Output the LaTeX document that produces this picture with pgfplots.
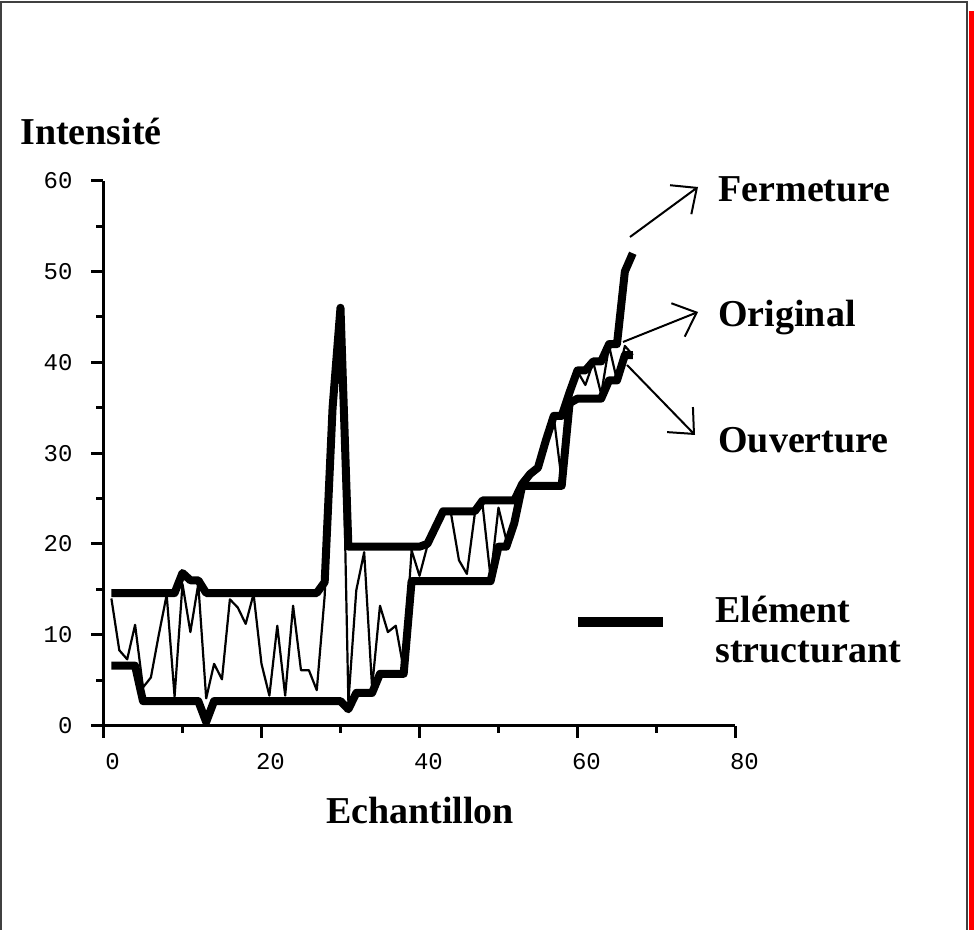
\documentclass[border=0pt]{standalone}
\usepackage{fontspec}
\setmainfont{Liberation Serif}
\setmonofont{Liberation Mono}
\usepackage{pgfplots}
\usepackage{pgfplotstable}
\pgfplotsset{compat=1.18}
\usetikzlibrary{arrows.meta}

\pgfplotstableread{
n orig ferm ouv
1 14.0 14.6 6.6
2 8.3 14.6 6.6
3 7.3 14.6 6.6
4 11.1 14.6 6.6
5 4.2 14.6 2.7
6 5.3 14.6 2.7
7 10.0 14.6 2.7
8 14.4 14.6 2.7
9 3.2 14.6 2.7
10 15.6 16.8 2.7
11 10.3 16.0 2.7
12 15.6 16.0 2.7
13 3.0 14.6 0.4
14 6.8 14.6 2.7
15 5.1 14.6 2.7
16 13.9 14.6 2.7
17 13.0 14.6 2.7
18 11.2 14.6 2.7
19 14.5 14.6 2.7
20 6.8 14.6 2.7
21 3.3 14.6 2.7
22 11.0 14.6 2.7
23 3.3 14.6 2.7
24 13.2 14.6 2.7
25 6.1 14.6 2.7
26 6.1 14.6 2.7
27 3.9 14.6 2.7
28 14.3 15.8 2.7
29 35.0 35.0 2.7
30 46.0 46.0 2.7
31 2.6 19.7 1.8
32 14.9 19.7 3.6
33 19.1 19.7 3.6
34 4.2 19.7 3.6
35 13.2 19.7 5.7
36 10.3 19.7 5.7
37 11.0 19.7 5.7
38 6.2 19.7 5.7
39 19.3 19.7 15.9
40 16.5 19.7 15.9
41 19.8 20.0 15.9
42 21.5 21.8 15.9
43 23.5 23.6 15.9
44 23.3 23.6 15.9
45 18.2 23.6 15.9
46 16.7 23.6 15.9
47 23.3 23.6 15.9
48 24.2 24.8 15.9
49 16.3 24.8 15.9
50 24.0 24.8 19.7
51 20.4 24.8 19.7
52 23.0 24.8 22.3
53 26.5 26.6 26.4
54 27.5 27.7 26.4
55 28.4 28.4 26.4
56 31.4 31.4 26.4
57 34.0 34.1 26.4
58 27.0 34.1 26.4
59 35.5 36.7 35.5
60 39.0 39.1 36.0
61 37.5 39.1 36.0
62 40.0 40.1 36.0
63 36.5 40.1 36.0
64 41.8 42.0 38.0
65 38.0 42.0 38.0
66 41.8 50.0 40.8
67 40.8 52.0 40.8
}\data

\begin{document}
\begin{tikzpicture}[x=0.5pt,y=0.5pt]
\useasboundingbox (0,0) rectangle (974,930);
\fill[white] (0,0) rectangle (974,930);
\draw[line width=1pt, black!75] (1,0) -- (1,928) -- (967,928) -- (967,0);
\fill[red] (968.5,0) rectangle (974,919);

\begin{axis}[
  at={(131,225)}, anchor=south west,
  scale only axis, width=316pt, height=272.5pt,
  xmin=0, xmax=80, ymin=0, ymax=60,
  axis lines*=left,
  axis line style={line width=1.5pt},
  xtick={0,20,40,60,80}, ytick={0,10,20,30,40,50,60},
  minor x tick num=1, minor y tick num=1,
  tick align=outside,
  major tick length=6pt, minor tick length=3.5pt,
  every tick/.style={line width=1.5pt, black},
  tick label style={font=\ttfamily\fontsize{12}{14}\selectfont},
  yticklabel style={xshift=-6pt},
  xticklabel style={xshift=4.5pt, yshift=-4.5pt},
  /pgf/number format/assume math mode=true,
  clip=false,
]
\addplot[line width=4pt, line join=round, black] table[x=n, y=ferm] {\data};
\addplot[line width=4pt, line join=round, black] table[x=n, y=ouv] {\data};
\addplot[line width=1.1pt, line join=round, black] table[x=n, y=orig] {\data};
\end{axis}

\node[anchor=base west, font=\bfseries\fontsize{19}{22}\selectfont, inner sep=0pt] at (20,785) {Intensité};
\node[anchor=base, font=\bfseries\fontsize{19}{22}\selectfont, inner sep=0pt] at (420,106) {Echantillon};
\node[anchor=base west, font=\bfseries\fontsize{19}{22}\selectfont, inner sep=0pt] at (718,728) {Fermeture};
\node[anchor=base west, font=\bfseries\fontsize{19}{22}\selectfont, inner sep=0pt] at (718,603) {Original};
\node[anchor=base west, font=\bfseries\fontsize{19}{22}\selectfont, inner sep=0pt] at (718,477) {Ouverture};
\node[anchor=base west, font=\bfseries\fontsize{19}{22}\selectfont, inner sep=0pt] at (715,307) {Elément};
\node[anchor=base west, font=\bfseries\fontsize{19}{22}\selectfont, inner sep=0pt] at (715,267) {structurant};
\draw[line width=5pt, black] (578,308) -- (663,308);

\draw[line width=1pt, -{Straight Barb[length=10pt,width=18pt]}] (630,693) -- (698,743);
\draw[line width=1pt, -{Straight Barb[length=10pt,width=18pt]}] (623,588) -- (698,618);
\draw[line width=1pt, -{Straight Barb[length=10pt,width=18pt]}] (627,565) -- (695,495);
\end{tikzpicture}
\end{document}
